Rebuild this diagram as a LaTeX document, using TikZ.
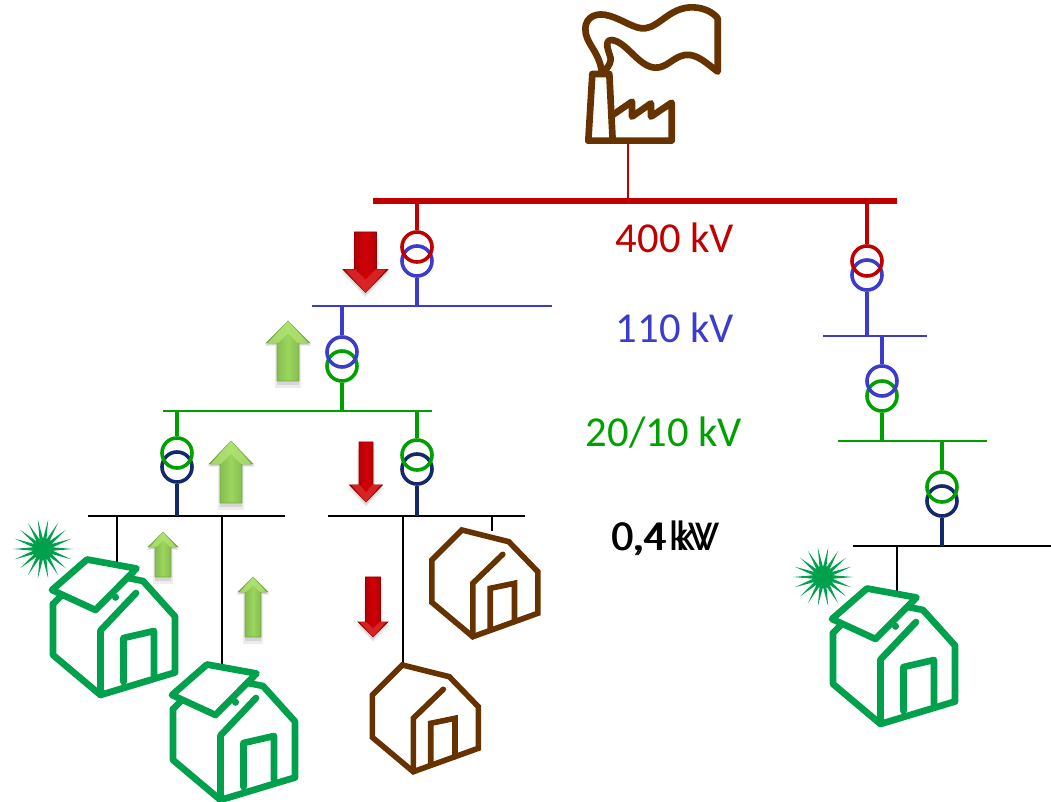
\documentclass[tikz,border=0pt]{standalone}
\usepackage{fontspec}
\setmainfont{Carlito}
\definecolor{cred}{HTML}{C00000}
\definecolor{cblue}{HTML}{3B3BCC}
\definecolor{cgreen}{HTML}{00A000}
\definecolor{cnavy}{HTML}{12296B}
\definecolor{cbrown}{HTML}{663300}
\definecolor{cpv}{HTML}{00A04D}
\definecolor{agreen}{HTML}{9AD65C}
\definecolor{agreenl}{HTML}{B5E574}
\definecolor{agreend}{HTML}{76A548}
\definecolor{aredm}{HTML}{D00008}
\definecolor{aredd}{HTML}{960000}
\definecolor{aredl}{HTML}{E03030}
\tikzset{
  x=0.75pt,y=-0.75pt,
  redbus/.style={draw=cred,line width=4.5pt},
  bluebus/.style={draw=cblue,line width=2.2pt},
  greenbus/.style={draw=cgreen,line width=2.2pt},
  blackbus/.style={draw=black,line width=2.2pt},
  feeder/.style={draw=black,line width=1.1pt},
  riser/.style={draw=#1,line width=2.6pt},
  trafo/.style={circle,draw=#1,line width=2.7pt,minimum size=22.5pt,inner sep=0pt},
  vlabel/.style={font=\fontsize{32}{38}\selectfont,text=#1,inner sep=0pt},
  pvline/.style={draw=cpv,line width=5pt,line join=round,line cap=round},
  brownline/.style={draw=cbrown,line width=4.2pt,line join=miter,line cap=round},
}
% x, tip y, wing y, tail y, half head, half shaft, base, light, dark
\newcommand{\flowarrow}[9]{%
  \fill[black,opacity=.07] (#1-#6-2,#4+7) -- (#1+#6+2,#4+7) -- (#1+#6+2,#3+3) -- (#1+#5+2,#3+3) -- (#1,#2+5) -- (#1-#5-2,#3+3) -- (#1-#6-2,#3+3) -- cycle;
  \fill[black,opacity=.10] (#1-#6,#4+4) -- (#1+#6,#4+4) -- (#1+#6,#3+2) -- (#1+#5,#3+2) -- (#1,#2+3) -- (#1-#5,#3+2) -- (#1-#6,#3+2) -- cycle;
  \path[left color=#9,right color=#9,middle color=#7,draw=#9,line width=.4pt]
    (#1-#6,#4) -- (#1+#6,#4) -- (#1+#6,#3) -- (#1+#5,#3) -- (#1,#2) -- (#1-#5,#3) -- (#1-#6,#3) -- cycle;
  \fill[#8,opacity=.75] (#1,#2) -- (#1+#5-2,#3) -- (#1+#6-1,#3) -- ({#1},{#2+0.55*(#3-#2)}) -- (#1-#6+1,#3) -- (#1-#5+2,#3) -- cycle;
}
\newcommand{\upflow}[6]{\flowarrow{#1}{#2}{#3}{#4}{#5}{#6}{agreen}{agreenl}{agreend}}
\newcommand{\downflow}[6]{\flowarrow{#1}{#2}{#3}{#4}{#5}{#6}{aredm}{aredl}{aredd}}
% PV house, offset from house 1 outline
\newcommand{\pvhouse}[2]{%
\begin{scope}[shift={(#1,#2)}]
  \draw[pvline] (53,604) -- (53,655) -- (100.5,695) -- (175,672.5) -- (175,616.5) -- (143,581) -- (128,578);
  \draw[pvline] (53,604) -- (62,595);
  \draw[pvline] (100.5,695) -- (100.5,630.5) -- (136,593);
  \draw[pvline] (123.5,682) -- (123.5,638) -- (154,631) -- (154,675);
  \draw[pvline] (52,590) -- (87,559.5) -- (136.5,568.5) -- (95.5,610) -- cycle;
  \draw[pvline] (115.5,597) -- (115.5,597.5);
\end{scope}}
\newcommand{\brownhouse}[2]{%
\begin{scope}[shift={(#1,#2)}]
  \draw[brownline] (402.3,665) -- (449.3,676.7) -- (478.3,706.7) -- (478.3,748.3) -- (413.3,771.7) -- (372.3,737.3) -- (372.3,695) -- cycle;
  \draw[brownline] (413.3,771.7) -- (413.3,718.3) -- (443.3,689.3);
  \draw[brownline] (430.7,765) -- (430.7,723.3) -- (455,718.3) -- (455,756.7);
\end{scope}}
\newcommand{\sunburst}[2]{%
  \fill[cpv] ({#1+30},{#2})
    \foreach \a in {0,20,...,340} {
      -- ({#1+10*cos(\a+10)},{#2+10*sin(\a+10)}) -- ({#1+30*cos(\a+20)},{#2+30*sin(\a+20)})
    } -- cycle;
}
\begin{document}
\begin{tikzpicture}
\useasboundingbox (0,0) rectangle (1051,802);

% factory
\begin{scope}[shift={(560,0)},x=0.25pt,y=-0.25pt,line join=round,line cap=round,draw=cbrown,line width=5pt]
  \draw (85,422) -- (97,222) -- (148,222) -- (158,422);
  \draw (85,422) -- (335,422) -- (335,308) -- (273,350) -- (273,310) -- (216,350) -- (216,305) -- (158,345);
  \draw (125,212) .. controls (115,150) and (75,130) .. (76,85)
        .. controls (78,50) and (110,35) .. (150,48)
        .. controls (190,60) and (225,88) .. (255,85)
        .. controls (300,80) and (330,20) .. (400,22)
        .. controls (435,24) and (460,38) .. (473,55)
        -- (473,215)
        .. controls (440,190) and (410,160) .. (375,165)
        .. controls (340,170) and (320,205) .. (285,203)
        .. controls (235,200) and (200,125) .. (155,120)
        .. controls (125,120) and (155,170) .. (152,180)
        .. controls (150,195) and (140,205) .. (135,212);
\end{scope}
\coordinate (plant) at (628,143);

% buses
\coordinate (b400w) at (373,201); \coordinate (b400e) at (897,201);
\coordinate (tap400) at (628,201);
\draw[redbus] (b400w) -- (b400e);
\draw[draw=cred,line width=1pt] (plant) -- (tap400);

\coordinate (b110w) at (312,306); \coordinate (b110e) at (552,306);
\draw[bluebus] (b110w) -- (b110e);
\coordinate (b20w) at (163,411); \coordinate (b20e) at (432,411);
\draw[greenbus] (b20w) -- (b20e);
\coordinate (lvAw) at (88,516); \coordinate (lvAe) at (285,516);
\draw[blackbus] (lvAw) -- (lvAe);
\coordinate (lvBw) at (328,516); \coordinate (lvBe) at (525,516);
\draw[blackbus] (lvBw) -- (lvBe);
\coordinate (r110w) at (823,336); \coordinate (r110e) at (927,336);
\draw[bluebus] (r110w) -- (r110e);
\coordinate (r20w) at (838,441); \coordinate (r20e) at (987,441);
\draw[greenbus] (r20w) -- (r20e);
\coordinate (rlvw) at (853,546); \coordinate (rlve) at (1051,546);
\draw[blackbus] (rlvw) -- (rlve);

% transformers
\node[trafo=cblue] (t1b) at (417,261) {};
\node[trafo=cred] (t1a) at (417,247) {};
\node[trafo=cgreen] (t2b) at (342,366) {};
\node[trafo=cblue] (t2a) at (342,352) {};
\node[trafo=cnavy] (t3b) at (177,467) {};
\node[trafo=cgreen] (t3a) at (177,453) {};
\node[trafo=cnavy] (t4b) at (417,469) {};
\node[trafo=cgreen] (t4a) at (417,455) {};
\node[trafo=cblue] (t5b) at (867,275) {};
\node[trafo=cred] (t5a) at (867,261) {};
\node[trafo=cgreen] (t6b) at (882,396) {};
\node[trafo=cblue] (t6a) at (882,381) {};
\node[trafo=cnavy] (t7b) at (942,501) {};
\node[trafo=cgreen] (t7a) at (942,487) {};

\draw[riser=cred] (417,201) -- (t1a.north);
\draw[riser=cblue] (t1b.south) -- (417,306);
\draw[riser=cblue] (342,306) -- (t2a.north);
\draw[riser=cgreen] (t2b.south) -- (342,411);
\draw[riser=cgreen] (177,411) -- (t3a.north);
\draw[riser=cnavy] (t3b.south) -- (177,516);
\draw[riser=cgreen] (417,411) -- (t4a.north);
\draw[riser=cnavy] (t4b.south) -- (417,516);
\draw[riser=cred] (867,201) -- (t5a.north);
\draw[riser=cblue] (t5b.south) -- (867,336);
\draw[riser=cblue] (882,336) -- (t6a.north);
\draw[riser=cgreen] (t6b.south) -- (882,441);
\draw[riser=cgreen] (942,441) -- (t7a.north);
\draw[riser=cnavy] (t7b.south) -- (942,546);

% feeders
\draw[feeder] (117,516) -- (117,562);
\draw[feeder] (222,516) -- (222,664);
\draw[feeder] (403,516) -- (403,665);
\draw[feeder] (492,516) -- (492,531);
\draw[feeder] (897,546) -- (897,592);

% flow arrows
\downflow{365.5}{292.5}{269.5}{232}{22.5}{11}
\upflow{288}{321}{343}{381}{22}{11}
\upflow{231}{441}{464}{503}{22}{11}
\downflow{366}{502}{485}{442}{16.5}{7}
\downflow{373}{637}{622}{577}{15}{7.5}
\upflow{163}{532}{547}{577}{15}{8}
\upflow{253}{577}{592}{637}{15}{8}

% houses
\sunburst{43}{549}
\sunburst{823}{577}
\pvhouse{0}{0}
\pvhouse{120}{105}
\pvhouse{780}{29}
\brownhouse{0}{0}
\brownhouse{59.5}{-135}

% labels
\node[vlabel=cred] (v400) at (675,238) {400 kV};
\node[vlabel=cblue] (v110) at (675,328) {110 kV};
\node[vlabel=cgreen] (v20) at (664,433) {20/10 kV};
\node[vlabel=black,anchor=west] (v04a) at (611,538) {0,4\kern3pt kV};
\node[vlabel=black,anchor=west] (v04b) at (612.5,538) {0,4\kern7pt kV};
\end{tikzpicture}
\end{document}
